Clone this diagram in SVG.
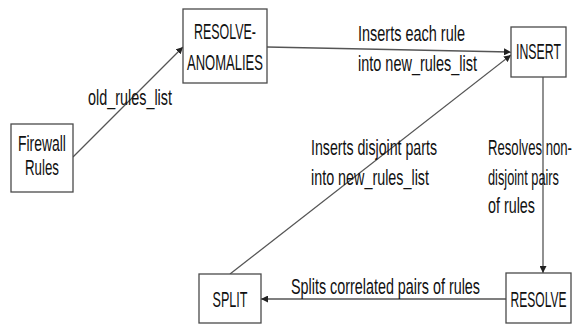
<svg xmlns="http://www.w3.org/2000/svg" width="577" height="325" viewBox="0 0 577 325">
  <style>
    .box { fill: #ffffff; stroke: #4a4a4a; stroke-width: 1.3; }
    .edge { fill: none; stroke: #555555; stroke-width: 1.3; }
    text { font-family: "Liberation Sans", Arial, sans-serif; font-size: 22px; fill: #111111; }
  </style>
  <defs>
    <marker id="arrow" viewBox="0 0 10 10" refX="10" refY="5" markerWidth="7" markerHeight="7" markerUnits="userSpaceOnUse" orient="auto">
      <path d="M0,0 L10,5 L0,10 Z" fill="#222222"/>
    </marker>
  </defs>
  <rect width="577" height="325" fill="#ffffff"/>

  <!-- connectors -->
  <g id="connectors">
    <line class="edge" x1="73" y1="157" x2="183" y2="47" marker-end="url(#arrow)"/>
    <line class="edge" x1="267" y1="47" x2="511" y2="52" marker-end="url(#arrow)"/>
    <line class="edge" x1="230" y1="274" x2="511" y2="55" marker-end="url(#arrow)"/>
    <line class="edge" x1="543" y1="77" x2="543" y2="273" marker-end="url(#arrow)"/>
    <line class="edge" x1="506" y1="299" x2="261" y2="299" marker-end="url(#arrow)"/>
  </g>

  <!-- connector labels (condensed lettering: each line scaled 0.65 horizontally) -->
  <g id="labels">
    <text transform="translate(88 105) scale(0.65 1)" textLength="129.2" lengthAdjust="spacingAndGlyphs">old_rules_list</text>
    <text transform="translate(358 41) scale(0.65 1)" textLength="164.6" lengthAdjust="spacingAndGlyphs">Inserts each rule</text>
    <text transform="translate(358 71) scale(0.65 1)" textLength="183.1" lengthAdjust="spacingAndGlyphs">into new_rules_list</text>
    <text transform="translate(311 155) scale(0.65 1)" textLength="193.8" lengthAdjust="spacingAndGlyphs">Inserts disjoint parts</text>
    <text transform="translate(311 185) scale(0.65 1)" textLength="181.5" lengthAdjust="spacingAndGlyphs">into new_rules_list</text>
    <text transform="translate(488 155) scale(0.65 1)" textLength="129.2" lengthAdjust="spacingAndGlyphs">Resolves non-</text>
    <text transform="translate(488 185) scale(0.65 1)" textLength="109.2" lengthAdjust="spacingAndGlyphs">disjoint pairs</text>
    <text transform="translate(488 213) scale(0.65 1)" textLength="72.3" lengthAdjust="spacingAndGlyphs">of rules</text>
    <text transform="translate(291 294) scale(0.65 1)" textLength="290.8" lengthAdjust="spacingAndGlyphs">Splits correlated pairs of rules</text>
  </g>

  <!-- nodes -->
  <g id="firewall-rules">
    <rect class="box" x="11" y="124" width="62" height="68"/>
    <text transform="translate(18 151) scale(0.65 1)" textLength="73.8" lengthAdjust="spacingAndGlyphs">Firewall</text>
    <text transform="translate(25 175) scale(0.65 1)" textLength="52.3" lengthAdjust="spacingAndGlyphs">Rules</text>
  </g>
  <g id="resolve-anomalies">
    <rect class="box" x="183" y="9" width="84" height="74"/>
    <text transform="translate(194 39) scale(0.65 1)" textLength="95.4" lengthAdjust="spacingAndGlyphs">RESOLVE-</text>
    <text transform="translate(187 70) scale(0.65 1)" textLength="116.9" lengthAdjust="spacingAndGlyphs">ANOMALIES</text>
  </g>
  <g id="insert">
    <rect class="box" x="511" y="27" width="55" height="50"/>
    <text transform="translate(516 59) scale(0.65 1)" textLength="69.2" lengthAdjust="spacingAndGlyphs">INSERT</text>
  </g>
  <g id="split">
    <rect class="box" x="199" y="274" width="62" height="49"/>
    <text transform="translate(212.5 307) scale(0.65 1)" textLength="53.8" lengthAdjust="spacingAndGlyphs">SPLIT</text>
  </g>
  <g id="resolve">
    <rect class="box" x="506" y="273" width="65" height="50"/>
    <text transform="translate(510.5 307) scale(0.65 1)" textLength="86.2" lengthAdjust="spacingAndGlyphs">RESOLVE</text>
  </g>
</svg>
